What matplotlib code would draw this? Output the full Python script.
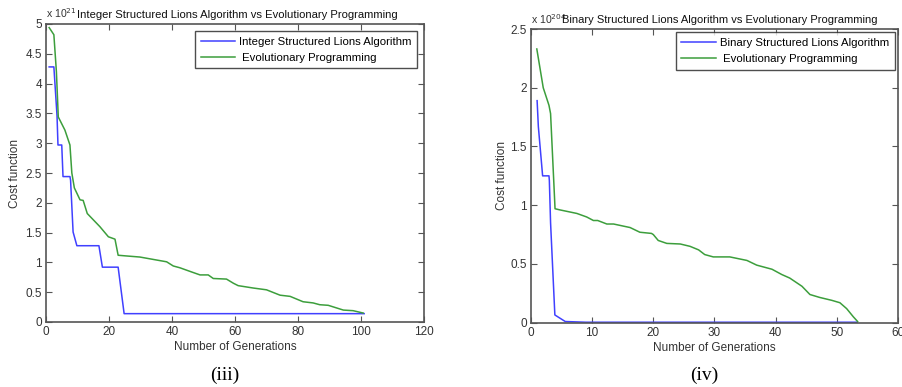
import numpy as np
import matplotlib.pyplot as plt

plt.rcParams['font.family'] = ['Liberation Sans', 'DejaVu Sans']

# (iii) integer structured lions algorithm vs EP, cost in units of 1e21
gen_int_lion = [1, 2.5, 3.5, 3.8, 5.0, 5.4, 7.6, 7.8, 8.6, 9.8, 16.8, 17.9, 22.9, 24.8, 101]
cost_int_lion = [4.28, 4.28, 3.46, 2.97, 2.97, 2.44, 2.44, 2.38, 1.51, 1.28, 1.28, 0.92, 0.92, 0.14, 0.14]

gen_int_ep = [1, 2.5, 3.3, 3.9, 6.0, 7.6, 8.2, 9.0, 10.8, 11.8, 13.1, 17.1, 19.8, 21.9, 22.9,
              25.1, 29.8, 35.1, 38.3, 40.4, 42.5, 46.2, 48.9, 51.5, 53.1, 57.3, 59.5, 61.0,
              65.8, 70.0, 74.3, 77.5, 81.6, 84.8, 86.9, 89.6, 94.4, 97.5, 100.7]
cost_int_ep = [4.94, 4.82, 4.20, 3.44, 3.22, 2.97, 2.50, 2.25, 2.05, 2.04, 1.82, 1.60, 1.43,
               1.39, 1.12, 1.11, 1.09, 1.04, 1.01, 0.94, 0.91, 0.84, 0.79, 0.79, 0.73, 0.72,
               0.65, 0.61, 0.57, 0.54, 0.45, 0.43, 0.34, 0.32, 0.29, 0.28, 0.20, 0.19, 0.15]

# (iv) binary structured lions algorithm vs EP, cost in units of 1e204
gen_bin_lion = [1.0, 1.2, 1.9, 2.94, 3.0, 3.2, 3.9, 5.6, 9.0, 53.3]
cost_bin_lion = [1.89, 1.67, 1.25, 1.25, 1.21, 0.85, 0.066, 0.01, 0.004, 0.004]

gen_bin_ep = [0.95, 2.0, 2.94, 3.2, 3.76, 3.93, 4.74, 7.5, 9.1, 10.2, 10.9, 12.4, 13.5, 16.2,
              17.8, 19.7, 20.0, 20.8, 22.2, 24.4, 26.0, 27.4, 28.4, 29.8, 32.5, 35.3, 36.9,
              39.4, 41.0, 42.3, 44.3, 45.6, 47.2, 49.2, 50.5, 51.6, 52.7, 53.4]
cost_bin_ep = [2.33, 2.00, 1.85, 1.78, 1.16, 0.97, 0.96, 0.93, 0.90, 0.87, 0.87, 0.84, 0.84,
               0.81, 0.77, 0.76, 0.75, 0.70, 0.675, 0.67, 0.65, 0.62, 0.58, 0.56, 0.56, 0.53,
               0.49, 0.455, 0.41, 0.38, 0.31, 0.24, 0.215, 0.19, 0.17, 0.12, 0.05, 0.01]

BLUE = '#4040ff'
GREEN = '#3c9e3c'
FRAME = '#555555'
TXT = '#333333'

fig = plt.figure(figsize=(9.03, 3.87), dpi=100)
W, H = 903.0, 387.0


def make_axes(px_left, px_right, px_top, px_bottom):
    return fig.add_axes([px_left / W, 1 - px_bottom / H,
                         (px_right - px_left) / W, (px_bottom - px_top) / H])


def style(ax):
    for s in ax.spines.values():
        s.set_color(FRAME)
        s.set_linewidth(1.2)
    ax.tick_params(direction='in', top=True, right=True, length=4, width=0.8,
                   colors=FRAME, labelcolor=TXT, labelsize=8.5, pad=3)


def legend(ax, pad):
    leg = ax.legend(loc='upper right', fontsize=8.2, frameon=True, fancybox=False,
                    borderaxespad=pad, handlelength=3.0, handletextpad=0.35,
                    labelspacing=0.55, borderpad=0.5)
    leg.get_frame().set_edgecolor('#222222')
    leg.get_frame().set_linewidth(1.0)


# ---- (iii)
ax1 = make_axes(46, 424, 24, 322)
ax1.plot(gen_int_lion, cost_int_lion, color=BLUE, lw=1.1, label='Integer Structured Lions Algorithm')
ax1.plot(gen_int_ep, cost_int_ep, color=GREEN, lw=1.1, label=' Evolutionary Programming')
ax1.set_xlim(0, 120)
ax1.set_ylim(0, 5)
ax1.set_xticks(np.arange(0, 121, 20))
ax1.set_yticks(np.arange(0, 5.01, 0.5))
ax1.set_yticklabels(['0', '0.5', '1', '1.5', '2', '2.5', '3', '3.5', '4', '4.5', '5'])
style(ax1)
ax1.set_xlabel('Number of Generations', fontsize=8.5, color=TXT, labelpad=2)
ax1.set_ylabel('Cost function', fontsize=8.5, color=TXT, labelpad=3)
ax1.text(0.0, 1.015, 'x 10$^{21}$', transform=ax1.transAxes, fontsize=7.6, color=TXT,
         ha='left', va='bottom')
ax1.set_title('Integer Structured Lions Algorithm vs Evolutionary Programming',
              fontsize=8.1, color='#111111', pad=4, x=0.505)
legend(ax1, 0.6)

# ---- (iv)
ax2 = make_axes(531, 898, 29, 322.7)
ax2.plot(gen_bin_lion, cost_bin_lion, color=BLUE, lw=1.1, label='Binary Structured Lions Algorithm')
ax2.plot(gen_bin_ep, cost_bin_ep, color=GREEN, lw=1.1, label=' Evolutionary Programming')
ax2.set_xlim(0, 60)
ax2.set_ylim(0, 2.5)
ax2.set_xticks(np.arange(0, 61, 10))
ax2.set_yticks([0, 0.5, 1, 1.5, 2, 2.5])
ax2.set_yticklabels(['0', '0.5', '1', '1.5', '2', '2.5'])
style(ax2)
ax2.set_xlabel('Number of Generations', fontsize=8.5, color=TXT, labelpad=2)
ax2.set_ylabel('Cost function', fontsize=8.5, color=TXT, labelpad=1.5)
ax2.text(0.0, 1.01, 'x 10$^{204}$', transform=ax2.transAxes, fontsize=7.6, color=TXT,
         ha='left', va='bottom')
ax2.set_title('Binary Structured Lions Algorithm vs Evolutionary Programming',
              fontsize=8.0, color='#111111', pad=4, x=0.515)
legend(ax2, 0.3)

# panel captions
fig.text(225 / W, 1 - 375 / H, '(iii)', family='Liberation Serif', fontsize=14,
         ha='center', va='center')
fig.text(704 / W, 1 - 375 / H, '(iv)', family='Liberation Serif', fontsize=14,
         ha='center', va='center')

fig.savefig('out.png', dpi=100)
